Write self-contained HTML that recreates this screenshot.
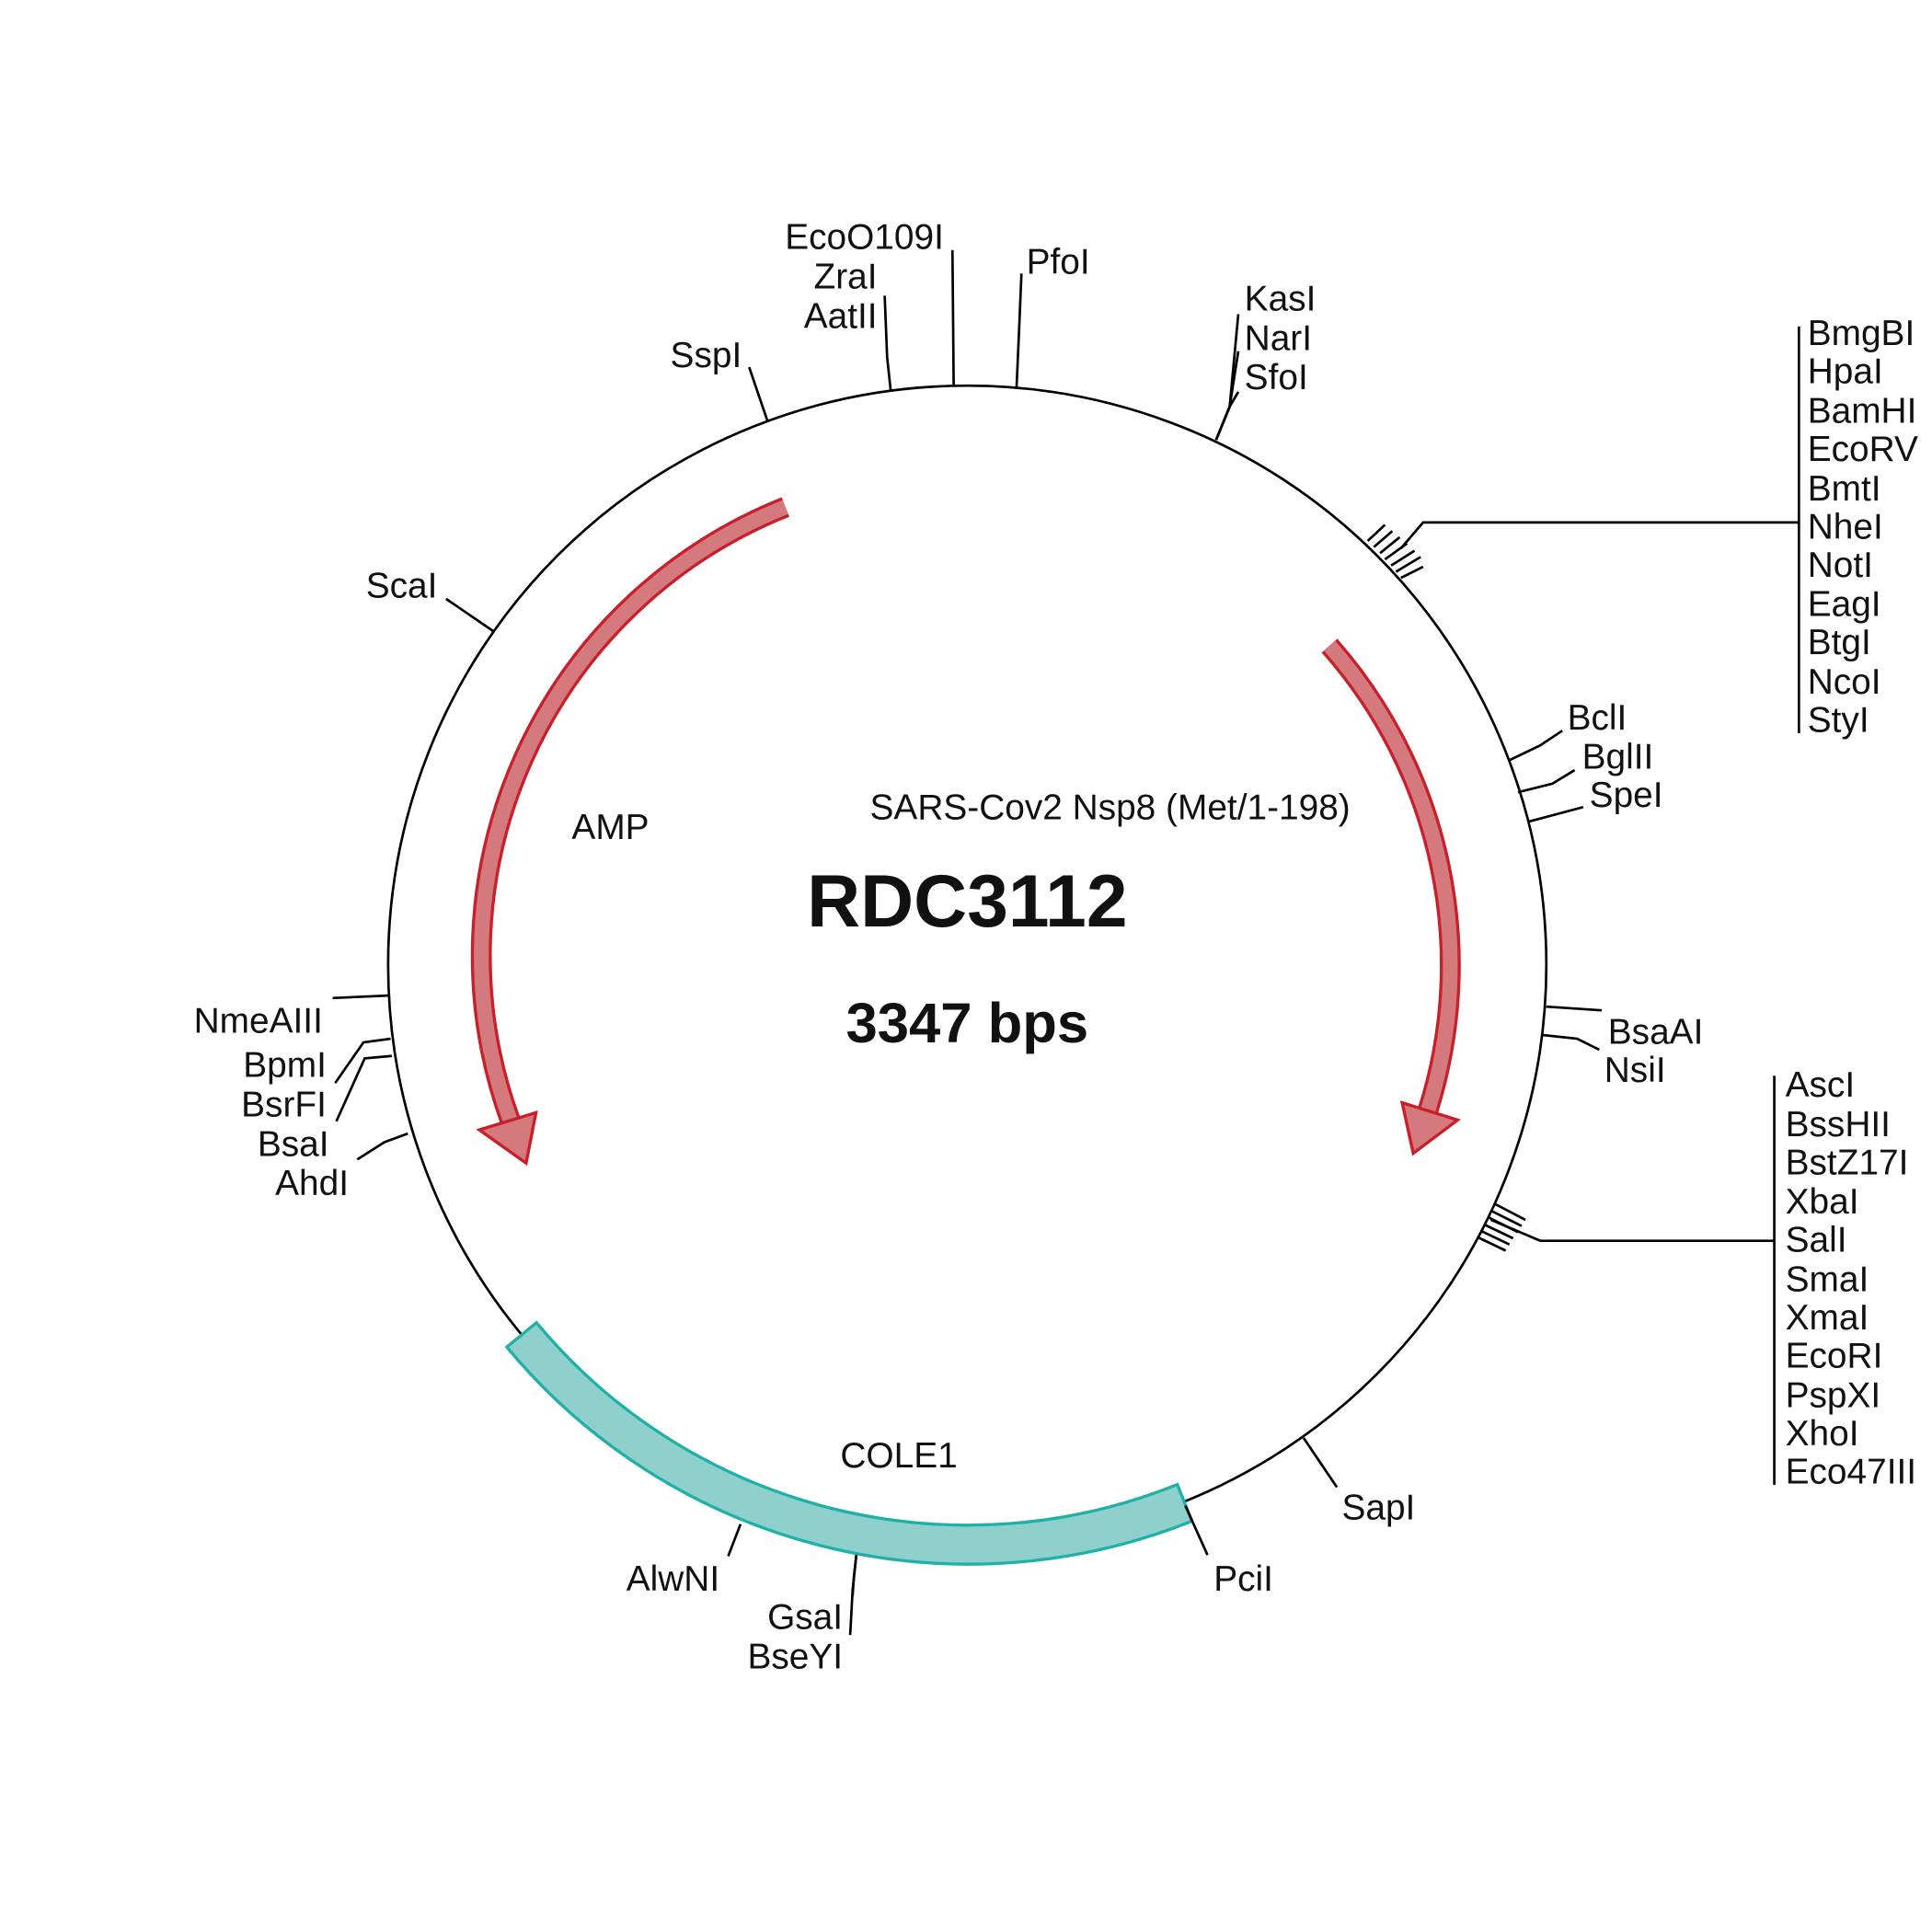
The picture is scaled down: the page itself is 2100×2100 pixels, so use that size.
<!DOCTYPE html>
<html><head><meta charset="utf-8"><style>
html,body{margin:0;padding:0;background:#fff;}
svg{display:block;}
text{font-family:"Liberation Sans",Arial,sans-serif;fill:#111;}
</style></head><body>
<svg width="2100" height="2100" viewBox="0 0 1568 1568" xmlns="http://www.w3.org/2000/svg">
<rect width="1568" height="1568" fill="#fff"/>
<circle cx="785" cy="783" r="470" fill="none" stroke="#000" stroke-width="2"/>

<!-- COLE1 band -->
<path d="M 967.4 1234.5 A 487 487 0 0 1 411.3 1093.3 L 435.4 1073.5 A 455 455 0 0 0 955.5 1204.8 Z" fill="#8fd0cc" stroke="#1fb0a8" stroke-width="2.5"/>

<g>
<path d="M 637.5 411.5 A 392 392 0 0 0 414 909" fill="none" stroke="#c8202a" stroke-width="17"/>
<path d="M 637.5 411.5 A 392 392 0 0 0 414 909" fill="none" stroke="#d47a7e" stroke-width="12"/>
<polygon points="389,917 435,903 427,944" fill="#d47a7e" stroke="#c8202a" stroke-width="2.5"/>
</g>
<g>
<path d="M 1079 524 A 392 392 0 0 1 1159 901" fill="none" stroke="#c8202a" stroke-width="17"/>
<path d="M 1079 524 A 392 392 0 0 1 1159 901" fill="none" stroke="#d47a7e" stroke-width="12"/>
<polygon points="1138,895 1183,909 1147,936" fill="#d47a7e" stroke="#c8202a" stroke-width="2.5"/>
</g>

<g stroke="#000" stroke-width="2" fill="none">
<line x1="623" y1="342" x2="608" y2="298"/>
<polyline points="723,318 720,290 718,240"/>
<line x1="774" y1="313" x2="773" y2="203"/>
<polyline points="825,315 827,270 829,222"/>
<polyline points="987,357 998,330 1005,255"/>
<polyline points="987,357 998,330 1005,285"/>
<polyline points="987,357 998,330 1005,318"/>
<line x1="1110" y1="439" x2="1124" y2="426"/>
<line x1="1115" y1="444" x2="1130" y2="431"/>
<line x1="1120" y1="449" x2="1136" y2="436"/>
<line x1="1124" y1="454" x2="1142" y2="441"/>
<line x1="1129" y1="459" x2="1148" y2="447"/>
<line x1="1133" y1="464" x2="1153" y2="452"/>
<line x1="1137" y1="469" x2="1155" y2="460"/>
<polyline points="1137,445 1155,424 1460,424"/>
<line x1="1460" y1="265" x2="1460" y2="595"/>
<polyline points="1225,617 1250,605 1268,593"/>
<polyline points="1232,643 1260,636 1278,625"/>
<line x1="1240" y1="667" x2="1285" y2="655"/>
<line x1="1255" y1="817" x2="1300" y2="820"/>
<polyline points="1252,840 1280,843 1298,852"/>
<line x1="1213" y1="977" x2="1238" y2="990"/>
<line x1="1211" y1="983" x2="1235" y2="995"/>
<line x1="1208" y1="988" x2="1232" y2="1000"/>
<line x1="1205" y1="994" x2="1228" y2="1005"/>
<line x1="1202" y1="999" x2="1225" y2="1010"/>
<line x1="1199" y1="1004" x2="1222" y2="1015"/>
<polyline points="1210,990 1250,1007 1440,1007"/>
<line x1="1440" y1="873" x2="1440" y2="1205"/>
<line x1="1058" y1="1167" x2="1085" y2="1207"/>
<line x1="962" y1="1222" x2="980" y2="1262"/>
<line x1="601" y1="1237" x2="591" y2="1263"/>
<polyline points="695,1262 693,1280 692,1295"/>
<polyline points="695,1262 692,1290 690,1327"/>
<line x1="400" y1="512" x2="362" y2="486"/>
<line x1="315" y1="808" x2="270" y2="810"/>
<polyline points="317,843 295,846 272,879"/>
<polyline points="318,857 296,859 273,910"/>
<polyline points="331,920 312,927 290,941"/>
</g>

<g font-size="29">
<text x="602" y="298" text-anchor="end">SspI</text>
<text x="766" y="202" text-anchor="end">EcoO109I</text>
<text x="712" y="234" text-anchor="end">ZraI</text>
<text x="712" y="266" text-anchor="end">AatII</text>
<text x="833" y="222">PfoI</text>
<text x="1010" y="252">KasI</text>
<text x="1010" y="284">NarI</text>
<text x="1010" y="316">SfoI</text>
<text x="1467" y="280">BmgBI</text>
<text x="1467" y="311">HpaI</text>
<text x="1467" y="343">BamHI</text>
<text x="1467" y="374">EcoRV</text>
<text x="1467" y="406">BmtI</text>
<text x="1467" y="437">NheI</text>
<text x="1467" y="468">NotI</text>
<text x="1467" y="500">EagI</text>
<text x="1467" y="531">BtgI</text>
<text x="1467" y="563">NcoI</text>
<text x="1467" y="594">StyI</text>
<text x="1272" y="592">BclI</text>
<text x="1284" y="624">BglII</text>
<text x="1290" y="655">SpeI</text>
<text x="1305" y="847">BsaAI</text>
<text x="1302" y="878">NsiI</text>
<text x="1449" y="890">AscI</text>
<text x="1449" y="922">BssHII</text>
<text x="1449" y="953">BstZ17I</text>
<text x="1449" y="985">XbaI</text>
<text x="1449" y="1016">SalI</text>
<text x="1449" y="1048">SmaI</text>
<text x="1449" y="1079">XmaI</text>
<text x="1449" y="1110">EcoRI</text>
<text x="1449" y="1142">PspXI</text>
<text x="1449" y="1173">XhoI</text>
<text x="1449" y="1204">Eco47III</text>
<text x="1089" y="1233">SapI</text>
<text x="985" y="1291">PciI</text>
<text x="584" y="1291" text-anchor="end">AlwNI</text>
<text x="684" y="1322" text-anchor="end">GsaI</text>
<text x="684" y="1354" text-anchor="end">BseYI</text>
<text x="355" y="485" text-anchor="end">ScaI</text>
<text x="262" y="838" text-anchor="end">NmeAIII</text>
<text x="265" y="874" text-anchor="end">BpmI</text>
<text x="265" y="906" text-anchor="end">BsrFI</text>
<text x="267" y="938" text-anchor="end">BsaI</text>
<text x="283" y="970" text-anchor="end">AhdI</text>
<text x="464" y="681">AMP</text>
<text x="706" y="665">SARS-Cov2 Nsp8 (Met/1-198)</text>
<text x="682" y="1191">COLE1</text>
</g>
<text x="785" y="752" text-anchor="middle" font-size="60" font-weight="bold">RDC3112</text>
<text x="785" y="846" text-anchor="middle" font-size="46" font-weight="bold">3347 bps</text>
</svg>
</body></html>
